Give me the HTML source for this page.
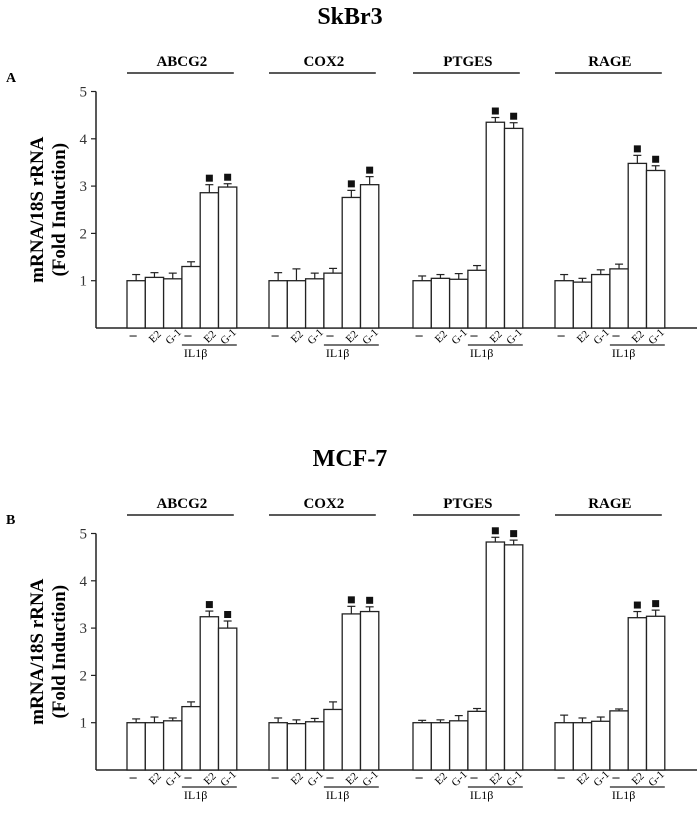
<!DOCTYPE html>
<html><head><meta charset="utf-8">
<style>
html,body{margin:0;padding:0;background:#fff;width:700px;height:815px;overflow:hidden}
svg{display:block;font-family:"Liberation Serif",serif}
</style></head>
<body>
<svg id="fig" width="700" height="815" viewBox="0 0 700 815"></svg>
<script>
const genes = ["ABCG2","COX2","PTGES","RAGE"];
const conditions = ["–","E2","G-1","–","E2","G-1"];
const yTicks = [1,2,3,4,5];
const valsA = [[1.0,1.07,1.04,1.3,2.86,2.98],[1.0,1.0,1.04,1.16,2.76,3.03],[1.0,1.05,1.03,1.22,4.35,4.22],[1.0,0.97,1.13,1.25,3.48,3.33]];
const errA  = [[0.13,0.1,0.12,0.1,0.17,0.07],[0.17,0.25,0.12,0.1,0.15,0.17],[0.1,0.08,0.12,0.1,0.1,0.12],[0.13,0.08,0.1,0.1,0.17,0.1]];
const valsB = [[1.0,1.0,1.04,1.34,3.24,3.0],[1.0,0.98,1.02,1.28,3.3,3.35],[1.0,1.0,1.04,1.24,4.82,4.76],[1.0,1.0,1.03,1.25,3.22,3.25]];
const errB  = [[0.08,0.12,0.06,0.1,0.12,0.15],[0.1,0.08,0.07,0.16,0.16,0.1],[0.05,0.06,0.11,0.06,0.1,0.1],[0.16,0.1,0.09,0.04,0.13,0.13]];
const sigIdx = [4,5];

const NS="http://www.w3.org/2000/svg";
const svg=document.getElementById('fig');
function mk(tag,attrs,parent){const e=document.createElementNS(NS,tag);for(const k in attrs)e.setAttribute(k,attrs[k]);(parent||svg).appendChild(e);return e;}

function panel(title,letter,base,vals,errs,prefix){
  const g=mk('g',{});
  
  
  const unit=47.3, x0=96, groupStart=[127,269,413,555], bw=18.3;
  const y=v=>base-v*unit;
  let t=mk('text',{x:350,y:base-304,'text-anchor':'middle','font-size':24,'font-weight':'bold'},g);t.textContent=title;
  
  t=mk('text',{x:6,y:base-246,'font-size':14,'font-weight':'bold'},g);t.textContent=letter;
  
  let a=mk('line',{x1:x0,y1:y(5),x2:x0,y2:base,stroke:'#222','stroke-width':1.5},g);
  
  a=mk('line',{x1:x0,y1:base,x2:697,y2:base,stroke:'#222','stroke-width':1.5},g);
  
  yTicks.forEach(v=>{
    mk('line',{x1:x0-5,y1:y(v),x2:x0,y2:y(v),stroke:'#222','stroke-width':1.2},g);
    const tt=mk('text',{x:x0-9,y:y(v)+5,'text-anchor':'end','font-size':15,fill:'#333'},g);tt.textContent=v;
    
  });
  const yl=mk('text',{'font-size':19,'font-weight':'bold','text-anchor':'middle',transform:`translate(49,${y(2.5)}) rotate(-90)`},g);
  
  const s1=mk('tspan',{x:0,dy:-6},yl);s1.textContent='mRNA/18S rRNA';
  const s2=mk('tspan',{x:0,dy:22},yl);s2.textContent='(Fold Induction)';
  genes.forEach((gn,gi)=>{
    const gs=groupStart[gi];
    const gt=mk('text',{x:gs+3*bw,y:base-262,'text-anchor':'middle','font-size':15,'font-weight':'bold'},g);gt.textContent=gn;
    
    mk('line',{x1:gs,y1:base-255,x2:gs+6*bw-3,y2:base-255,stroke:'#222','stroke-width':1.5},g);
    vals[gi].forEach((v,i)=>{
      const bx=gs+i*bw;
      const r=mk('rect',{x:bx,y:y(v),width:bw,height:v*unit,fill:'#fff',stroke:'#222','stroke-width':1.3},g);
      
      
      const ex=bx+bw/2, et=y(v+errs[gi][i]);
      mk('line',{x1:ex,y1:y(v),x2:ex,y2:et,stroke:'#222','stroke-width':1.2},g);
      mk('line',{x1:ex-4,y1:et,x2:ex+4,y2:et,stroke:'#222','stroke-width':1.2},g);
      if(sigIdx.includes(i)){
        const m=mk('rect',{x:ex-3.5,y:et-10,width:7,height:7,fill:'#111'},g);
        
      }
      const c=conditions[i];
      let lt;
      if(c==='–'){lt=mk('text',{x:ex-3,y:base+11,'text-anchor':'middle','font-size':14,'font-weight':'bold'},g);}
      else{lt=mk('text',{'font-size':11,'text-anchor':'middle',transform:`translate(${ex+3},${base+11}) rotate(-45)`},g);}
      lt.textContent=c;
      
    });
    mk('line',{x1:gs+3*bw,y1:base+17,x2:gs+6*bw,y2:base+17,stroke:'#222','stroke-width':1.3},g);
    const il=mk('text',{x:gs+3*bw+2,y:base+29,'font-size':12},g);il.textContent='IL1β';
    
  });
}
panel('SkBr3','A',328,valsA,errA,'skbr3');
panel('MCF-7','B',770,valsB,errB,'mcf7');
</script>
</body></html>
